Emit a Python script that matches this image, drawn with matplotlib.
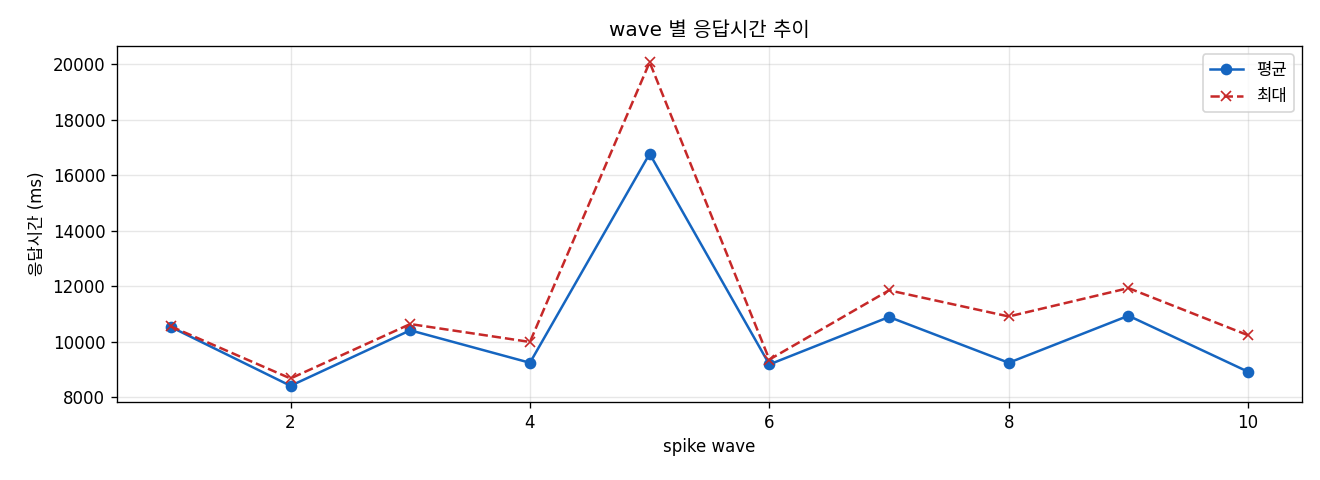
import matplotlib
matplotlib.use("Agg")
import matplotlib.pyplot as plt

plt.rcParams['font.family'] = ['DejaVu Sans', 'Noto Sans CJK KR']
plt.rcParams['axes.unicode_minus'] = False

waves = [1, 2, 3, 4, 5, 6, 7, 8, 9, 10]
avg_ms = [10540, 8420, 10420, 9250, 16780, 9190, 10900, 9250, 10945, 8925]
max_ms = [10560, 8685, 10645, 10000, 20075, 9366, 11860, 10918, 11940, 10240]

fig, ax = plt.subplots(figsize=(11, 4), dpi=120)
ax.plot(waves, avg_ms, marker='o', linestyle='-', color='#1565C0', label='평균', markersize=6, linewidth=1.5)
ax.plot(waves, max_ms, marker='x', linestyle='--', color='#C62828', label='최대', markersize=6, linewidth=1.5)
ax.set_title('wave 별 응답시간 추이')
ax.set_xlabel('spike wave')
ax.set_ylabel('응답시간 (ms)')
ax.grid(True, alpha=0.3)
ax.legend(loc='upper right')
fig.subplots_adjust(left=0.0886, right=0.9864, top=0.904, bottom=0.1625)
fig.savefig('out.png')
